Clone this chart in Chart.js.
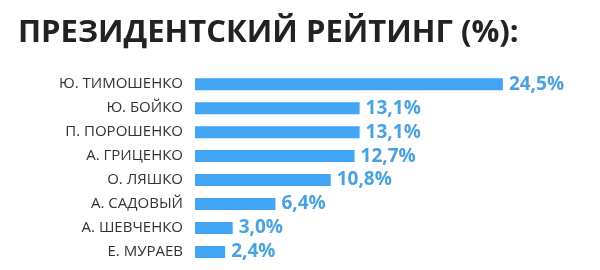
<!DOCTYPE html>
<html>
<head>
<meta charset="utf-8">
<script src="https://cdn.jsdelivr.net/npm/chart.js@4"></script>
<style>
  html, body { margin: 0; padding: 0; background: #fff; }
  #wrap { width: 600px; height: 270px; position: relative; }
</style>
</head>
<body>
<div id="wrap"><canvas id="myChart"></canvas></div>
<script>
const titleText = "ПРЕЗИДЕНТСКИЙ РЕЙТИНГ (%):";
const candidates = [
  "Ю. ТИМОШЕНКО",
  "Ю. БОЙКО",
  "П. ПОРОШЕНКО",
  "А. ГРИЦЕНКО",
  "О. ЛЯШКО",
  "А. САДОВЫЙ",
  "А. ШЕВЧЕНКО",
  "Е. МУРАЕВ",
];
const rating = [24.5, 13.1, 13.1, 12.7, 10.8, 6.4, 3.0, 2.4];

// подписи значений справа от столбцов
const valueLabels = {
  id: "valueLabels",
  afterDatasetsDraw(chart) {
    const ctx = chart.ctx;
    const meta = chart.getDatasetMeta(0);
    ctx.save();
    ctx.font = "bold 19px 'Open Sans'";
    ctx.fillStyle = "#4aa2e0";
    ctx.textAlign = "left";
    ctx.textBaseline = "middle";
    meta.data.forEach((bar, i) => {
      const txt = rating[i].toFixed(1).replace(".", ",") + "%";
      ctx.fillText(txt, bar.x + 6, bar.y);
    });
    ctx.restore();
  },
};

const ctx = document.getElementById("myChart").getContext("2d");
const myChart = new Chart(ctx, {
  type: "bar",
  data: {
    labels: candidates,
    datasets: [
      {
        data: rating,
        backgroundColor: "#42a5f5",
        barPercentage: 0.5,
        categoryPercentage: 1,
      },
    ],
  },
  options: {
    indexAxis: "y",
    responsive: true,
    maintainAspectRatio: false,
    animation: false,
    layout: {
      padding: { left: 18, right: 28, top: 0, bottom: 6 },
    },
    plugins: {
      legend: { display: false },
      tooltip: { enabled: false },
      title: {
        display: true,
        text: titleText,
        align: "start",
        color: "#222222",
        font: { family: "'Open Sans'", size: 31, weight: "bold", lineHeight: 1.2 },
        padding: { top: 15, bottom: 20 },
      },
    },
    scales: {
      x: {
        display: false,
        min: 0,
        max: 30,
      },
      y: {
        grid: { display: false, drawTicks: false },
        border: { display: false },
        ticks: {
          color: "#333333",
          padding: 12,
          font: { family: "'Open Sans'", size: 15 },
        },
        afterFit(axis) {
          axis.width = 177;
          axis.paddingTop = 0;
          axis.paddingBottom = 0;
        },
      },
    },
  },
  plugins: [valueLabels],
});
</script>
</body>
</html>
